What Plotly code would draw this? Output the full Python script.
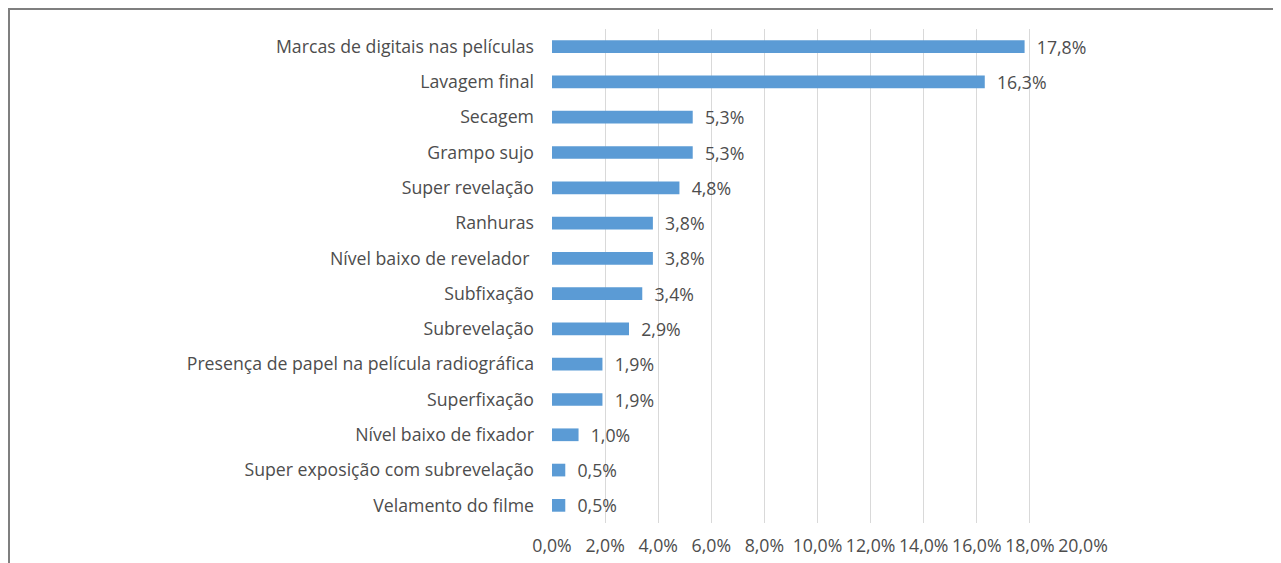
import plotly.graph_objects as go

categories = [
    "Marcas de digitais nas películas",
    "Lavagem final",
    "Secagem",
    "Grampo sujo",
    "Super revelação",
    "Ranhuras",
    "Nível baixo de revelador\u00a0",
    "Subfixação",
    "Subrevelação",
    "Presença de papel na película radiográfica",
    "Superfixação",
    "Nível baixo de fixador",
    "Super exposição com subrevelação",
    "Velamento do filme",
]
values = [17.8, 16.3, 5.3, 5.3, 4.8, 3.8, 3.8, 3.4, 2.9, 1.9, 1.9, 1.0, 0.5, 0.5]
value_labels = ["17,8%", "16,3%", "5,3%", "5,3%", "4,8%", "3,8%", "3,8%", "3,4%",
                "2,9%", "1,9%", "1,9%", "1,0%", "0,5%", "0,5%"]
tick_vals = [0, 2, 4, 6, 8, 10, 12, 14, 16, 18, 20]
tick_text = ["0,0%", "2,0%", "4,0%", "6,0%", "8,0%", "10,0%", "12,0%", "14,0%",
             "16,0%", "18,0%", "20,0%"]

FONT = "Open Sans"
TXT = "#4d4d4d"
FS = 17.7

fig = go.Figure(go.Bar(
    x=values, y=categories, orientation="h",
    marker=dict(color="#5B9BD5", line=dict(width=0)),
    text=["\u00a0\u00a0" + t for t in value_labels],
    textposition="outside", cliponaxis=False, constraintext="none",
    textfont=dict(family=FONT, size=FS, color=TXT),
    width=0.36,
))

fig.update_layout(
    width=1281, height=563,
    margin=dict(l=544, r=206, t=21, b=48),
    plot_bgcolor="white", paper_bgcolor="white",
    showlegend=False,
    font=dict(family=FONT, size=FS, color=TXT),
    xaxis=dict(range=[0, 20], tickvals=tick_vals, ticktext=tick_text,
               showgrid=True, gridcolor="#d9d9d9", gridwidth=1,
               zeroline=False, showline=False, ticks="", ticklabelstandoff=10,
               tickfont=dict(family=FONT, size=FS, color=TXT)),
    yaxis=dict(autorange="reversed", showgrid=False, zeroline=False,
               showline=False, ticks="", ticklabelstandoff=17,
               tickfont=dict(family=FONT, size=FS, color=TXT)),
    shapes=[dict(type="path", xref="paper", yref="paper",
                 path="M -1.0226 -0.3 L -1.0226 1.0405 L 1.6 1.0405",
                 line=dict(color="#7f7f7f", width=2))],
)

fig.write_html("out.html")
